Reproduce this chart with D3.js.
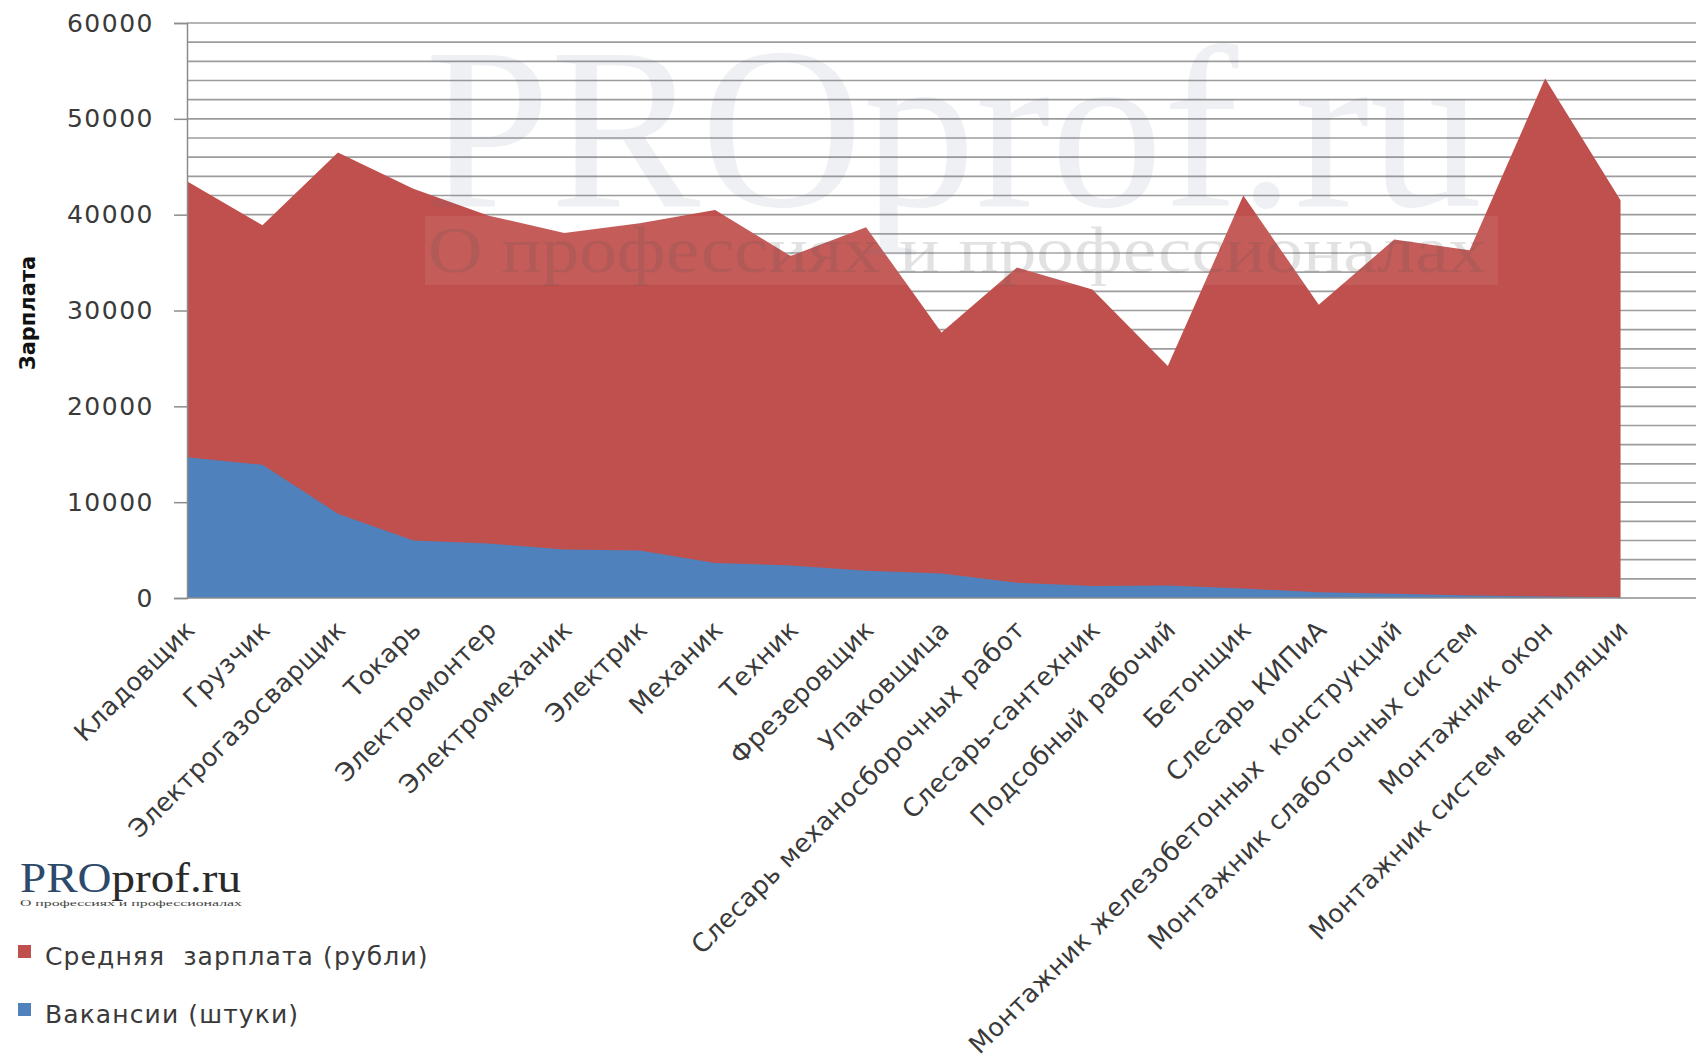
<!DOCTYPE html>
<html>
<head>
<meta charset="utf-8">
<script src="https://cdn.jsdelivr.net/npm/d3@7/dist/d3.min.js"></script>
<style>
  body { margin: 0; background: #fff; }
  svg { display: block; font-family: "DejaVu Sans", sans-serif; }
</style>
</head>
<body>
<svg id="chart" width="1702" height="1063"></svg>
<script>
// professions (x axis)
const categories = [
  "Кладовщик", "Грузчик", "Электрогазосварщик", "Токарь", "Электромонтер",
  "Электромеханик", "Электрик", "Механик", "Техник", "Фрезеровщик",
  "Упаковщица", "Слесарь механосборочных работ", "Слесарь-сантехник",
  "Подсобный рабочий", "Бетонщик", "Слесарь КИПиА",
  "Монтажник железобетонных  конструкций", "Монтажник слаботочных систем",
  "Монтажник окон", "Монтажник систем вентиляции"
];
// average salary, rubles
const salary = [
  43500, 38900, 46500, 42700, 39900, 38100, 39100, 40500, 35700, 38700,
  27700, 34500, 32200, 24200, 42000, 30600, 37400, 36300, 54200, 41500
];
// vacancies, count
const vacancies = [
  14700, 13900, 8800, 6000, 5700, 5050, 4950, 3650, 3400, 2850,
  2550, 1600, 1250, 1300, 1000, 600, 450, 250, 150, 80
];
const yTicks = [0, 10000, 20000, 30000, 40000, 50000, 60000];
const seriesNames = ["Средняя  зарплата (рубли)", "Вакансии (штуки)"];
const seriesColors = ["#C0504D", "#4F81BD"];

const svg = d3.select("#chart");
const plotLeft = 187, plotRight = 1696, plotTop = 23, plotBottom = 598;

// one empty slot after the last category, as in the original
const x = d3.scaleLinear().domain([0, categories.length]).range([plotLeft, plotRight]);
const y = d3.scaleLinear().domain([0, 60000]).range([plotBottom, plotTop]);

// minor gridlines every 2000
svg.append("g")
  .selectAll("line")
  .data(d3.range(2000, 60001, 2000))
  .join("line")
  .attr("x1", plotLeft).attr("x2", plotRight)
  .attr("y1", d => y(d)).attr("y2", d => y(d))
  .attr("stroke", "#9c9c9c")
  .attr("stroke-width", 1.6);

const area = vals => d3.area()
  .x((d, i) => x(i))
  .y0(y(0))
  .y1(d => y(d))(vals);

svg.append("path").attr("d", area(salary)).attr("fill", seriesColors[0]);
svg.append("path").attr("d", area(vacancies)).attr("fill", seriesColors[1]);

// watermark
const wm = svg.append("g");
wm.append("text")
  .attr("x", 425).attr("y", 206)
  .attr("textLength", 1057).attr("lengthAdjust", "spacingAndGlyphs")
  .style("font-family", "'Liberation Serif', serif")
  .style("font-size", "230px")
  .attr("fill", "#5a7090").attr("fill-opacity", 0.1)
  .text("PROprof.ru");
wm.append("rect")
  .attr("x", 425).attr("y", 216).attr("width", 1073).attr("height", 69)
  .attr("fill", "#fff").attr("fill-opacity", 0.07);
wm.append("text")
  .attr("x", 428).attr("y", 272)
  .attr("textLength", 1058).attr("lengthAdjust", "spacingAndGlyphs")
  .style("font-family", "'Liberation Serif', serif")
  .style("font-size", "66px")
  .attr("fill", "#555").attr("fill-opacity", 0.17)
  .text("О профессиях и профессионалах");

// y axis
const yAxis = svg.append("g")
  .attr("transform", `translate(${plotLeft},0)`)
  .call(d3.axisLeft(y).tickValues(yTicks).tickSize(13).tickPadding(20).tickFormat(d3.format("d")));
yAxis.select(".domain").attr("stroke", "#8c8c8c").attr("stroke-width", 1.5);
yAxis.selectAll(".tick line").attr("stroke", "#8c8c8c").attr("stroke-width", 1.5);
yAxis.selectAll(".tick text")
  .style("font-family", "'DejaVu Sans', sans-serif")
  .style("font-size", "25px")
  .style("letter-spacing", "1.5px")
  .attr("fill", "#3a3a3a");

// x axis baseline
svg.append("line")
  .attr("x1", plotLeft).attr("x2", plotRight)
  .attr("y1", y(0)).attr("y2", y(0))
  .attr("stroke", "#8c8c8c").attr("stroke-width", 1.5);

// category labels
svg.append("g")
  .selectAll("text")
  .data(categories)
  .join("text")
  .attr("transform", (d, i) => `translate(${x(i) + 3},${plotBottom + 27}) rotate(-45)`)
  .attr("text-anchor", "end")
  .attr("dy", "0.35em")
  .style("font-size", "25.5px")
  .style("letter-spacing", "0.4px")
  .attr("fill", "#3a3a3a")
  .attr("xml:space", "preserve")
  .text(d => d);

// y axis title
svg.append("text")
  .attr("transform", "translate(28,313) rotate(-90)")
  .attr("text-anchor", "middle")
  .attr("dy", "0.35em")
  .style("font-size", "21px")
  .style("font-weight", "bold")
  .attr("fill", "#111")
  .text("Зарплата");

// logo
const logo = svg.append("text")
  .attr("x", 20).attr("y", 892)
  .attr("textLength", 221).attr("lengthAdjust", "spacingAndGlyphs")
  .style("font-family", "'Liberation Serif', serif")
  .style("font-size", "42px");
logo.append("tspan").attr("fill", "#2e4a6b").text("PRO");
logo.append("tspan").attr("fill", "#2a2a2a").text("prof.ru");
svg.append("text")
  .attr("x", 20).attr("y", 906)
  .attr("textLength", 222).attr("lengthAdjust", "spacingAndGlyphs")
  .style("font-family", "'Liberation Serif', serif")
  .style("font-size", "9px")
  .attr("fill", "#444")
  .text("О профессиях и профессионалах");

// legend
const legend = svg.append("g")
  .selectAll("g")
  .data(seriesNames)
  .join("g")
  .attr("transform", (d, i) => `translate(18,${945 + i * 58})`);
legend.append("rect")
  .attr("width", 13).attr("height", 13)
  .attr("fill", (d, i) => seriesColors[i]);
legend.append("text")
  .attr("x", 27).attr("y", 20)
  .style("font-size", "25px")
  .style("letter-spacing", "1.1px")
  .attr("fill", "#3a3a3a")
  .attr("xml:space", "preserve")
  .text(d => d);
</script>
</body>
</html>
